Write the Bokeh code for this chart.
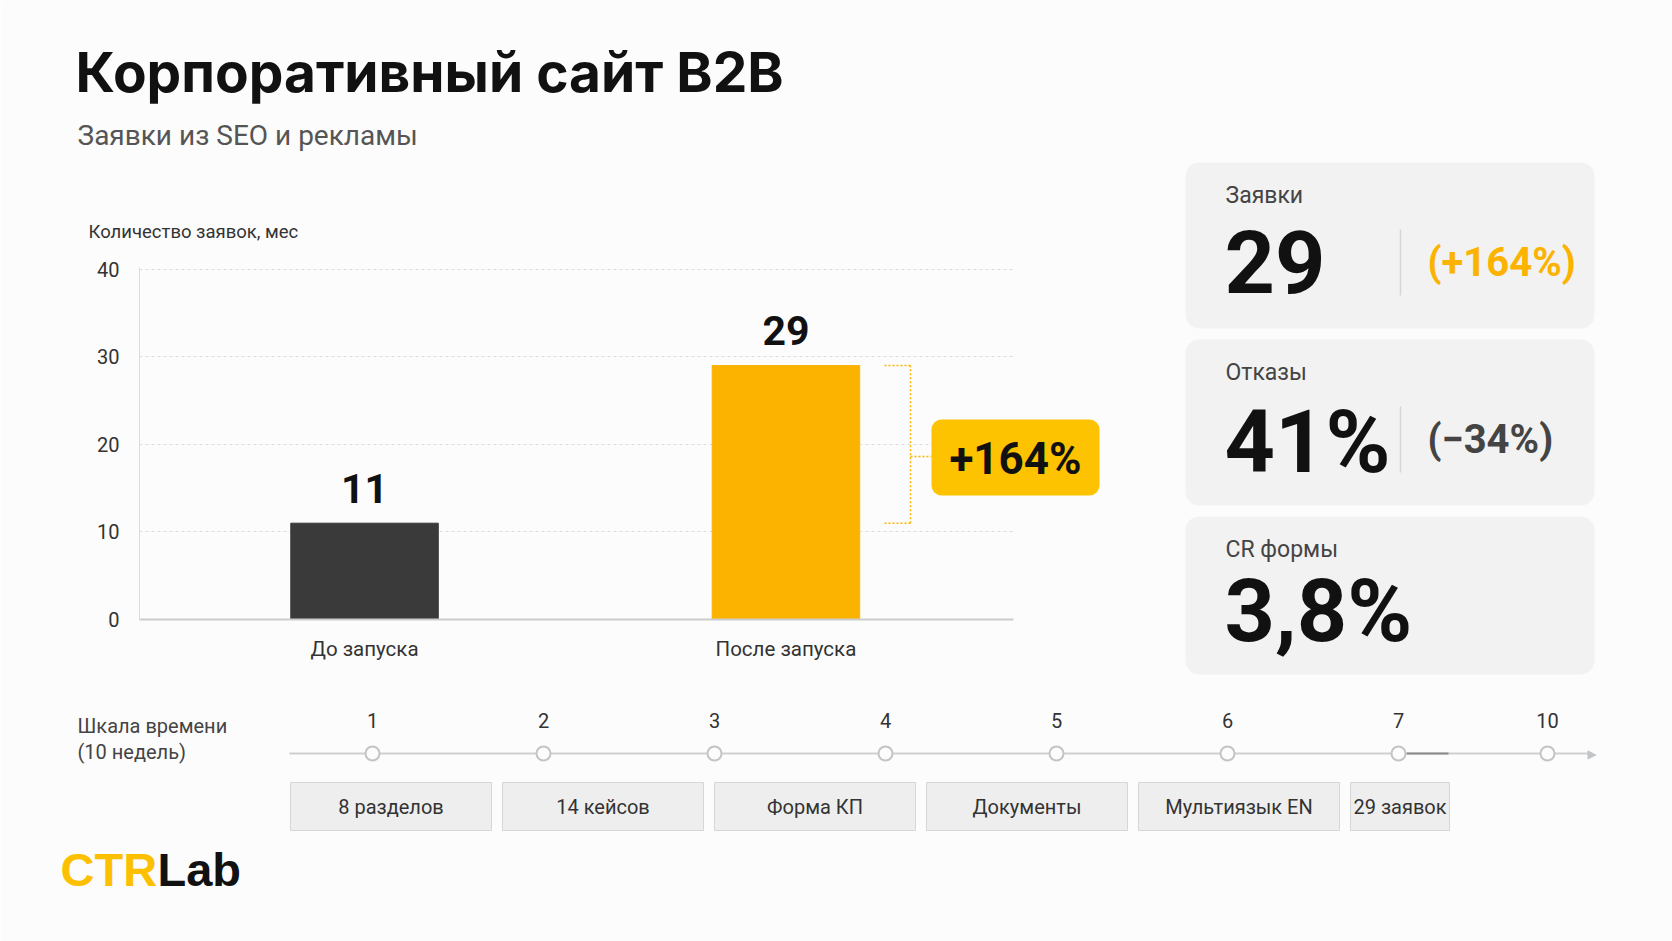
import math
from bokeh.plotting import figure
from bokeh.models import Range1d, FixedTicker
from bokeh.core.properties import value
from bokeh.embed import file_html
from bokeh.resources import INLINE

# ---------------- data ----------------
categories = ["До запуска", "После запуска"]
leads = [11, 29]
y_ticks = [0, 10, 20, 30, 40]
title_text = "Корпоративный сайт B2B"
subtitle_text = "Заявки из SEO и рекламы"
y_title = "Количество заявок, мес"
kpi_labels = ["Заявки", "Отказы", "CR формы"]
kpi_values = ["29", "41%", "3,8%"]
kpi_changes = ["(+164%)", "(−34%)", ""]
timeline_title = ["Шкала времени", "(10 недель)"]
week_labels = ["1", "2", "3", "4", "5", "6", "7", "10"]
milestones = ["8 разделов", "14 кейсов", "Форма КП", "Документы", "Мультиязык EN", "29 заявок"]
brand = ["CTR", "Lab"]

# ---------------- layout ----------------
W, H = 1672, 941
FL, FR, FT, FB = 139, 1013, 267, 619
BG = "#fcfcfc"
YEL = "#FCB300"
SANS = "Roboto"
TITLE = "Inter"

p = figure(width=W, height=H, output_backend="svg", toolbar_location=None,
           x_range=Range1d(-0.534, 1.540), y_range=Range1d(y_ticks[0], y_ticks[-1] + 0.2),
           min_border_left=FL, min_border_right=W - FR, min_border_top=FT,
           min_border_bottom=H - FB,
           background_fill_color=BG, border_fill_color=BG, outline_line_color=None)
p.extra_x_ranges = {"px": Range1d(FL, FR)}
p.extra_y_ranges = {"px": Range1d(FB, FT)}

PX = dict(x_range_name="px", y_range_name="px", level="overlay")

# axes
yax = p.yaxis[0]
yax.ticker = FixedTicker(ticks=y_ticks)
yax.axis_line_color = "#dcdcdc"
yax.axis_line_width = 1
yax.major_tick_line_color = None
yax.minor_tick_line_color = None
yax.major_label_text_font = SANS
yax.major_label_text_font_size = "20px"
yax.major_label_text_color = "#333333"
yax.major_label_standoff = 14

xax = p.xaxis[0]
xax.ticker = FixedTicker(ticks=list(range(len(categories))))
xax.major_label_overrides = {i: c for i, c in enumerate(categories)}
xax.axis_line_color = "#cccccc"
xax.axis_line_width = 2
xax.major_tick_line_color = None
xax.minor_tick_line_color = None
xax.major_label_text_font = SANS
xax.major_label_text_font_size = "20.5px"
xax.major_label_text_color = "#333333"
xax.major_label_standoff = 11

p.xgrid.visible = False
p.ygrid.ticker = FixedTicker(ticks=y_ticks[1:])
p.ygrid.grid_line_color = "#dcdcdc"
p.ygrid.grid_line_dash = "3 3"
p.ygrid.grid_line_width = 1

# bars
xs = list(range(len(categories)))
p.vbar(x=xs, top=leads, width=0.35, color=["#3a3a3a", YEL])
p.text(x=xs, y=leads, text=[str(v) for v in leads], text_align="center",
       text_baseline="middle", y_offset=-35, text_font=value(SANS),
       text_font_style="bold", text_font_size="41px", text_color="#111111")

# bracket showing growth
bx0, bx1 = 884, 910
p.segment(x0=[bx0, bx0, bx1], x1=[bx1, bx1, bx1],
          y0=[leads[1], leads[0], leads[0]], y1=[leads[1], leads[0], leads[1]],
          x_range_name="px", line_color=YEL, line_dash="2 2", line_width=1.5)
p.segment(x0=[bx1], x1=[931], y0=[456], y1=[456], line_color=YEL,
          line_dash="2 2", line_width=1.5, **PX)
pct = round((leads[1] - leads[0]) / leads[0] * 100)
p.quad(left=[931], right=[1099], top=[419], bottom=[495], fill_color="#FDC200",
       line_color=None, border_radius=10, **PX)


def txt(x, y, t, size, color="#222222", font=SANS, bold=False, align="left"):
    p.text(x=[x], y=[y], text=[t], text_font=value(font),
           text_font_style="bold" if bold else "normal",
           text_font_size=f"{size}px", text_color=color, text_align=align,
           text_baseline="middle", **PX)


txt(1015, 458, f"+{pct}%", 44, "#111111", SANS, True, "center")

# titles
txt(75, 71, title_text, 55, "#111111", TITLE, True)
txt(77, 135, subtitle_text, 28, "#555555")
txt(88, 231, y_title, 18.5, "#333333")

# KPI cards
card_tops = [162, 339, 516]
card_bottoms = [328, 505, 674]
value_dy = [99, 102, 94]
p.quad(left=[1185] * 3, right=[1594] * 3, top=card_tops, bottom=card_bottoms,
       fill_color="#f2f2f2", line_color=None, border_radius=14, **PX)
change_colors = [YEL, "#444444", "#444444"]
for i, t in enumerate(card_tops):
    txt(1225, t + 33, kpi_labels[i], 23, "#444444")
    txt(1224, t + value_dy[i], kpi_values[i], 88, "#111111", SANS, True)
    if kpi_changes[i]:
        p.segment(x0=[1400], x1=[1400], y0=[t + 67], y1=[t + 133],
                  line_color="#d6d6d6", line_width=1.5, **PX)
        txt(1427, t + 100, kpi_changes[i], 40, change_colors[i], SANS, True)

# timeline
txt(77, 725, timeline_title[0], 20, "#444444")
txt(77, 751, timeline_title[1], 20, "#444444")
TY = 753
tl_x = [372 + 171 * i for i in range(len(week_labels) - 1)]
tl_x.append(tl_x[-1] + 149)
p.segment(x0=[289], x1=[1588], y0=[TY], y1=[TY], line_color="#cfcfcf",
          line_width=2, **PX)
p.segment(x0=[tl_x[-2] + 8], x1=[tl_x[-2] + 50], y0=[TY], y1=[TY],
          line_color="#8a8a8a", line_width=2, **PX)
txt(1587, TY, "▶", 12, "#c4c4c4", "DejaVu Sans", False)
R = 7
p.quad(left=[x - R for x in tl_x], right=[x + R for x in tl_x],
       top=[TY - R] * len(tl_x), bottom=[TY + R] * len(tl_x), border_radius=R,
       fill_color=BG, line_color="#c4c4c4", line_width=2, **PX)
for x, w in zip(tl_x, week_labels):
    txt(x, 720, w, 20, "#333333", align="center")

lefts = [290 + 212 * i for i in range(len(milestones))]
rights = [l + 201 for l in lefts]
rights[-1] = lefts[-1] + 99
p.quad(left=lefts, right=rights, top=[782] * len(lefts), bottom=[830] * len(lefts),
       fill_color="#eeeeee", line_color="#d6d6d6", line_width=1, **PX)
for l, r, m in zip(lefts, rights, milestones):
    txt((l + r) / 2, 806, m, 20, "#333333", align="center")

# brand
txt(60, 869, brand[0], 47, "#FDC000", "Liberation Sans", True)
txt(157, 869, brand[1], 47, "#111111", "Liberation Sans", True)

open("out.html", "w").write(file_html(p, INLINE))
